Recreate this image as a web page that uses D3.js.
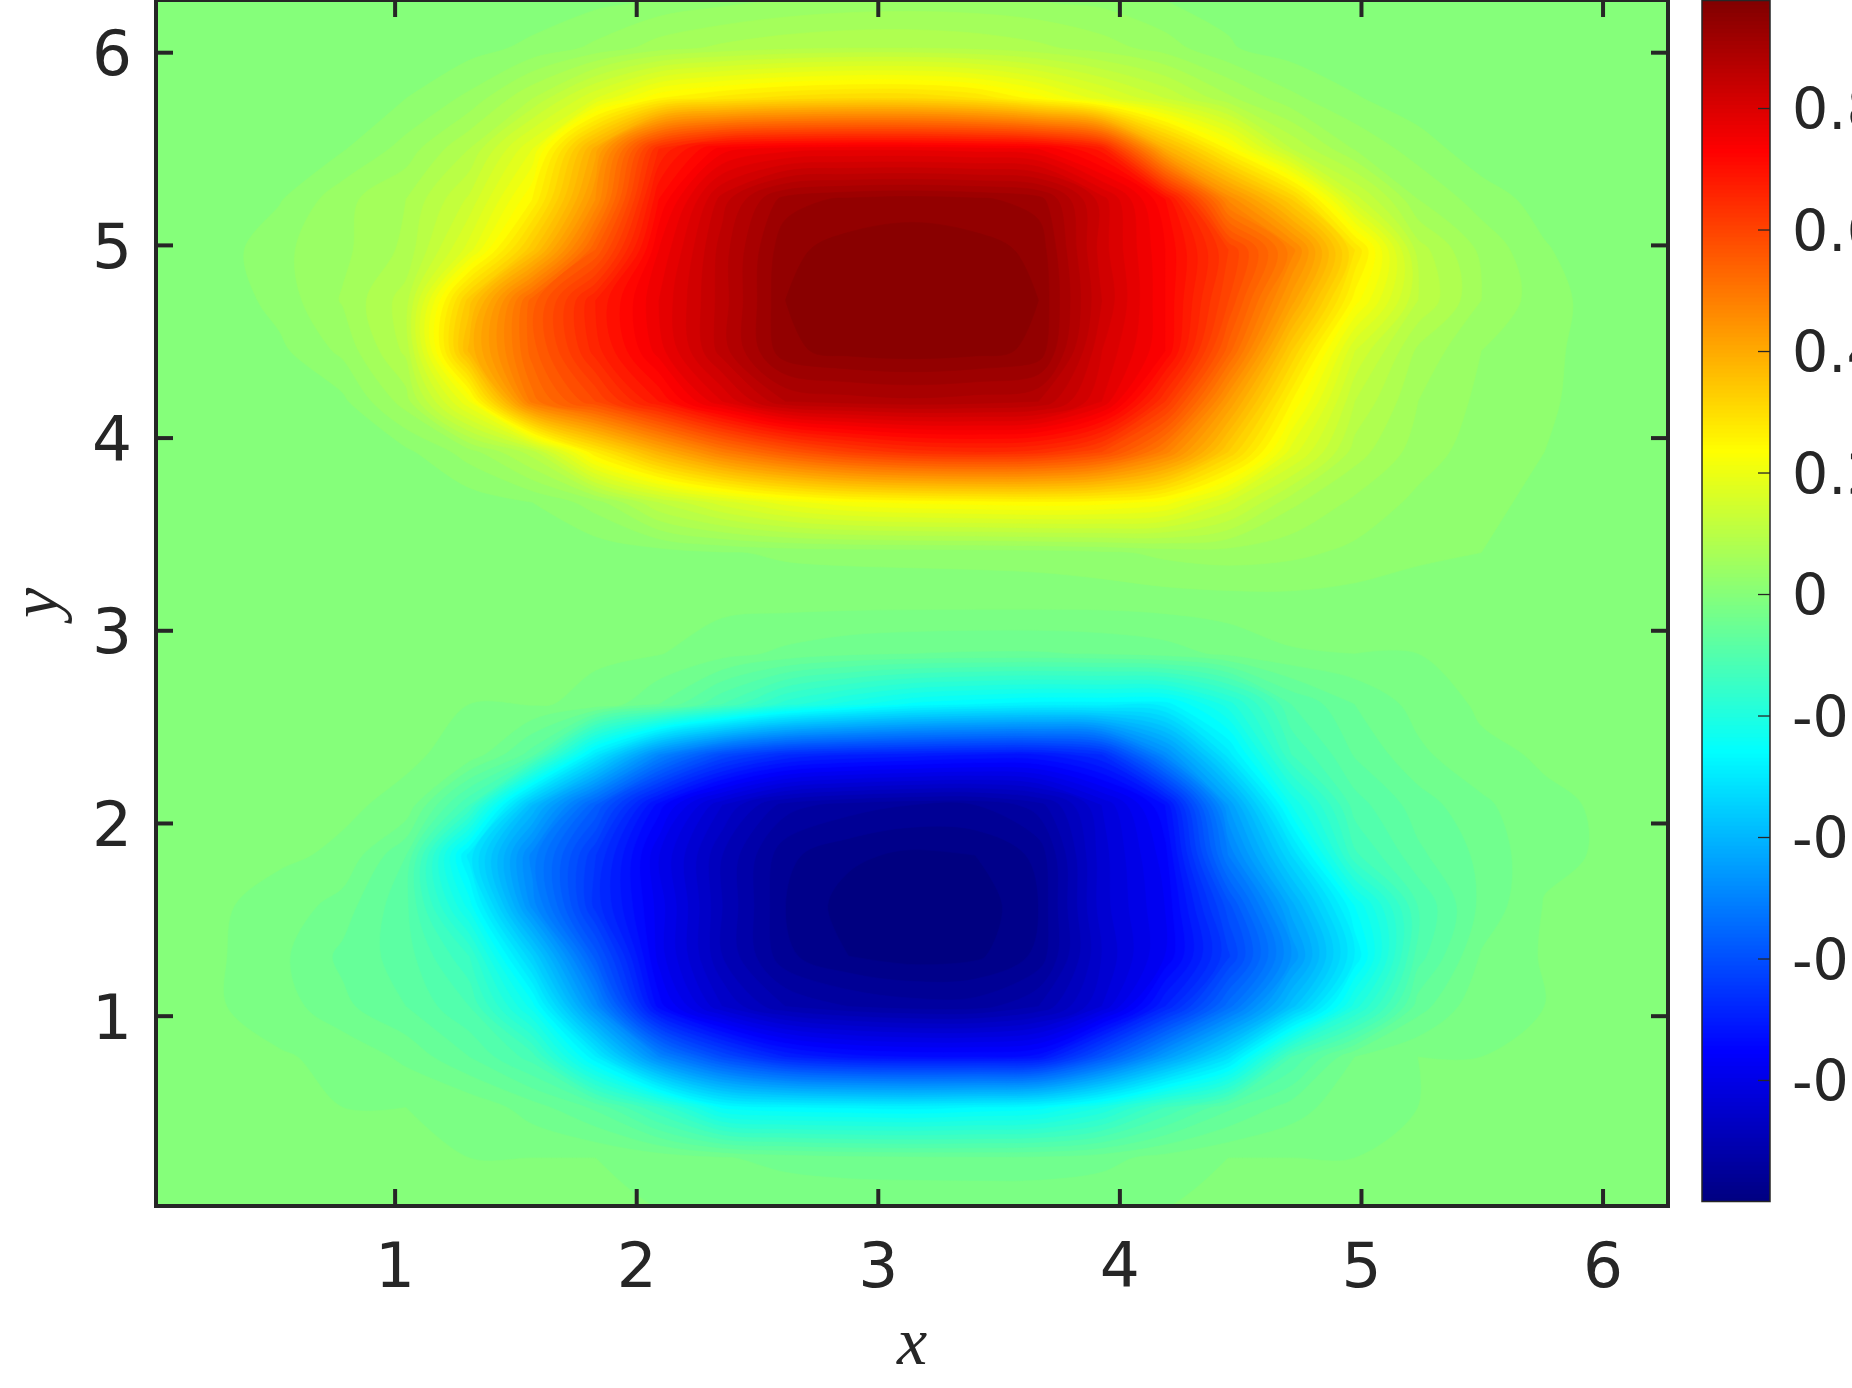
<!DOCTYPE html>
<html>
<head>
<meta charset="utf-8">
<script src="https://cdn.jsdelivr.net/npm/d3@7"></script>
<style>
html,body{margin:0;padding:0;background:#ffffff;overflow:hidden}
svg{display:block}
</style>
</head>
<body>
<svg id="chart" width="1852" height="1388"></svg>
<script>
// ---- data ----
const xGrid = [0,0.262,0.524,0.785,1.047,1.309,1.571,1.833,2.094,2.356,2.618,2.880,3.142,3.403,3.665,3.927,4.189,4.451,4.712,4.974,5.236,5.498,5.760,6.021,6.283];
const yGrid = [0,0.262,0.524,0.785,1.047,1.309,1.571,1.833,2.094,2.356,2.618,2.880,3.142,3.403,3.665,3.927,4.189,4.451,4.712,4.974,5.236,5.498,5.760,6.021,6.283];
// zRows[j][i] = value at (xGrid[i], yGrid[j]); j = 0 is the bottom row (y = 0)
const zRows = [
 [0,0,0,0,0,0,0,0,0,0,0,0,0,0,0,0,0,0,0,0,0,0,0,0,0],
 [0,0,0,0,0,0,0,0,-0.008,-0.018,-0.028,-0.034,-0.036,-0.037,-0.036,-0.028,-0.012,0,0,0,0,0,0,0,0],
 [0,0,0,0,0,-0.005,-0.03,-0.065,-0.14,-0.245,-0.26,-0.265,-0.27,-0.26,-0.25,-0.2,-0.12,-0.065,-0.03,-0.005,0,0,0,0,0],
 [0,0,0.002,-0.005,-0.025,-0.06,-0.11,-0.28,-0.48,-0.6,-0.68,-0.71,-0.72,-0.72,-0.71,-0.58,-0.44,-0.31,-0.1,-0.02,0,0,0,0,0],
 [0,0.002,-0.01,-0.035,-0.06,-0.1,-0.23,-0.47,-0.73,-0.84,-0.9,-0.92,-0.93,-0.93,-0.9,-0.82,-0.68,-0.53,-0.37,-0.19,-0.05,-0.003,0,0,0],
 [0,0.003,-0.015,-0.045,-0.07,-0.14,-0.34,-0.57,-0.77,-0.88,-0.955,-0.98,-0.99,-0.985,-0.955,-0.84,-0.76,-0.625,-0.46,-0.28,-0.09,-0.018,0.002,0,0],
 [0,0.002,-0.005,-0.03,-0.075,-0.23,-0.47,-0.65,-0.77,-0.88,-0.96,-0.99,-1.0,-0.995,-0.96,-0.83,-0.76,-0.59,-0.41,-0.24,-0.1,-0.035,0.001,0,0],
 [0,0,0.002,-0.002,-0.06,-0.29,-0.49,-0.64,-0.78,-0.88,-0.955,-0.975,-0.985,-0.98,-0.955,-0.83,-0.75,-0.5,-0.32,-0.125,-0.065,-0.035,-0.004,0.002,0],
 [0,0,0,0.002,-0.003,-0.12,-0.38,-0.56,-0.73,-0.84,-0.91,-0.93,-0.94,-0.94,-0.91,-0.82,-0.72,-0.44,-0.22,-0.09,-0.05,-0.025,-0.003,0.002,0],
 [0,0,0,0,0.002,-0.004,-0.07,-0.29,-0.48,-0.6,-0.66,-0.68,-0.69,-0.7,-0.7,-0.66,-0.47,-0.29,-0.12,-0.058,-0.025,-0.004,0.002,0,0],
 [0,0,0,0,0,0,0.002,-0.004,-0.04,-0.1,-0.17,-0.21,-0.245,-0.26,-0.27,-0.27,-0.27,-0.19,-0.08,-0.04,-0.012,0.003,0,0,0],
 [0,0,0,0,0,0,0,0.002,0.001,-0.012,-0.025,-0.035,-0.04,-0.042,-0.042,-0.038,-0.03,-0.015,-0.002,0,0,0,0,0,0],
 [0,0,0,0,0,0,0.002,0.003,0.004,0.005,0.006,0.006,0.006,0.006,0.006,0.006,0.008,0.01,0.012,0.01,0.006,0.002,0,0,0],
 [0,0,0,0,0,0,0.003,0.006,0.01,0.018,0.023,0.025,0.026,0.027,0.029,0.035,0.045,0.05,0.045,0.035,0.025,0.02,0.004,0,0],
 [0,0,0,0,0.005,0.008,0.02,0.05,0.12,0.17,0.21,0.235,0.245,0.25,0.255,0.25,0.23,0.16,0.085,0.055,0.035,0.025,0.015,0,0],
 [0,0,0,0,0.015,0.05,0.11,0.28,0.4,0.5,0.57,0.62,0.65,0.66,0.65,0.6,0.49,0.34,0.19,0.09,0.05,0.03,0.02,0.004,0],
 [0,0,0.003,0.015,0.07,0.22,0.51,0.6,0.7,0.8,0.88,0.89,0.895,0.89,0.88,0.8,0.64,0.44,0.26,0.12,0.06,0.035,0.024,0.008,0],
 [0,0.004,0.015,0.045,0.105,0.385,0.55,0.67,0.77,0.87,0.955,0.968,0.972,0.968,0.955,0.82,0.74,0.55,0.34,0.16,0.075,0.04,0.025,0.01,0],
 [0.002,0.005,0.028,0.062,0.11,0.35,0.55,0.68,0.78,0.87,0.96,0.972,0.977,0.972,0.96,0.84,0.74,0.6,0.43,0.25,0.12,0.06,0.028,0.01,0],
 [0,0.008,0.035,0.055,0.085,0.19,0.355,0.56,0.76,0.87,0.955,0.968,0.972,0.968,0.955,0.83,0.74,0.62,0.49,0.3,0.11,0.055,0.022,0.006,0],
 [0,0,0.018,0.053,0.08,0.144,0.26,0.46,0.72,0.85,0.93,0.945,0.95,0.945,0.93,0.83,0.72,0.475,0.34,0.15,0.06,0.03,0.012,0.003,0],
 [0,0,0,0.018,0.048,0.1,0.2,0.41,0.66,0.75,0.77,0.775,0.775,0.77,0.76,0.69,0.4,0.256,0.12,0.058,0.03,0.008,0,0,0],
 [0,0,0,0,0.02,0.045,0.1,0.18,0.26,0.29,0.31,0.32,0.32,0.3,0.25,0.19,0.14,0.085,0.045,0.022,0.008,0,0,0,0],
 [0,0,0,0,0.004,0.012,0.025,0.045,0.07,0.085,0.095,0.1,0.1,0.095,0.085,0.07,0.05,0.022,0.01,0.003,0,0,0,0,0],
 [0,0,0,0,0,0,0.005,0.012,0.022,0.03,0.038,0.043,0.045,0.044,0.04,0.032,0.018,0.014,0.008,0.003,0,0,0,0,0]
];
const xTicks = [1,2,3,4,5,6];
const yTicks = [1,2,3,4,5,6];
const cbTicks = [-0.8,-0.6,-0.4,-0.2,0,0.2,0.4,0.6,0.8];
const cbTickLabels = ["-0.8","-0.6","-0.4","-0.2","0","0.2","0.4","0.6","0.8"];
const xLabel = "x", yLabel = "y";

// ---- layout ----
const axisColor = "#262626";
const plot = {left:156, right:1668, top:0, bottom:1206};
const cb = {left:1702, right:1770, top:0.5, bottom:1201.5};
const dom = [0.0123, 6.2709];

const svg = d3.select("#chart");
const x = d3.scaleLinear().domain(dom).range([plot.left, plot.right]);
const y = d3.scaleLinear().domain(dom).range([plot.bottom, plot.top]);

const nx = xGrid.length, ny = yGrid.length;
const values = [];
for (let j = 0; j < ny; j++) for (let i = 0; i < nx; i++) values.push(zRows[j][i]);
const [zmin, zmax] = d3.extent(values);

const jetStops = [0, 0.125, 0.375, 0.625, 0.875, 1];
const jetColors = ["#000080", "#0000ff", "#00ffff", "#ffff00", "#ff0000", "#800000"];
const color = d3.scaleLinear()
  .domain(jetStops.map(s => zmin + s * (zmax - zmin)))
  .range(jetColors)
  .interpolate(d3.interpolateRgb)
  .clamp(true);

const levels = d3.range(-50, 49).map(k => k / 50);
const contours = d3.contours().size([nx, ny]).thresholds(levels)(values);

const stepX = (xGrid[nx - 1] - xGrid[0]) / (nx - 1);
const stepY = (yGrid[ny - 1] - yGrid[0]) / (ny - 1);
const gx = c => xGrid[0] + (c - 0.5) * stepX;
const gy = c => yGrid[0] + (c - 0.5) * stepY;
const ringLine = d3.line().curve(d3.curveCatmullRomClosed.alpha(0.5));

function pathFor(geom) {
  let s = "";
  geom.coordinates.forEach(poly => poly.forEach(ring => {
    const pts = ring.slice(0, -1).map(p => [x(gx(p[0])), y(gy(p[1]))]);
    if (pts.length > 2) s += ringLine(pts);
  }));
  return s;
}

svg.append("defs").append("clipPath").attr("id", "plotclip")
  .append("rect")
  .attr("x", plot.left).attr("y", plot.top)
  .attr("width", plot.right - plot.left).attr("height", plot.bottom - plot.top);

const field = svg.append("g").attr("clip-path", "url(#plotclip)");
field.append("rect")
  .attr("x", plot.left).attr("y", plot.top)
  .attr("width", plot.right - plot.left).attr("height", plot.bottom - plot.top)
  .attr("fill", color(0));
field.selectAll("path.band")
  .data(contours)
  .join("path")
  .attr("class", "band")
  .attr("d", d => pathFor(d))
  .attr("fill", d => color(d.value))
  .attr("fill-rule", "evenodd")
  .attr("stroke", d => color(d.value))
  .attr("stroke-width", 0.6);

// ---- axes ----
const fontSans = "'DejaVu Sans', sans-serif";
const tickLen = 17;
function styleAxis(g) {
  g.select(".domain").remove();
  g.selectAll(".tick line").attr("stroke", axisColor).attr("stroke-width", 4);
  g.selectAll(".tick text").attr("fill", axisColor).style("font-family", fontSans).style("font-size", "63px");
}
svg.append("g").attr("transform", `translate(0,${plot.bottom})`)
  .call(d3.axisBottom(x).tickValues(xTicks).tickSize(-tickLen).tickPadding(36).tickFormat(d3.format("d")))
  .call(styleAxis);
svg.append("g").attr("transform", `translate(0,${plot.top})`)
  .call(d3.axisTop(x).tickValues(xTicks).tickSize(-tickLen).tickFormat(""))
  .call(styleAxis);
svg.append("g").attr("transform", `translate(${plot.left},0)`)
  .call(d3.axisLeft(y).tickValues(yTicks).tickSize(-tickLen).tickPadding(24).tickFormat(d3.format("d")))
  .call(styleAxis)
  .selectAll(".tick text").attr("dy", "0.36em");
svg.append("g").attr("transform", `translate(${plot.right},0)`)
  .call(d3.axisRight(y).tickValues(yTicks).tickSize(-tickLen).tickFormat(""))
  .call(styleAxis);

svg.append("rect")
  .attr("x", plot.left).attr("y", plot.top)
  .attr("width", plot.right - plot.left).attr("height", plot.bottom - plot.top)
  .attr("fill", "none").attr("stroke", axisColor).attr("stroke-width", 4);

// axis labels
svg.append("text")
  .attr("x", (plot.left + plot.right) / 2).attr("y", 1364)
  .attr("text-anchor", "middle")
  .style("font-family", "'Liberation Serif', serif").style("font-style", "italic").style("font-size", "68px")
  .attr("fill", axisColor)
  .text(xLabel);
svg.append("text")
  .attr("transform", `translate(58,${(plot.top + plot.bottom) / 2}) rotate(-90)`)
  .attr("text-anchor", "middle")
  .style("font-family", "'Liberation Serif', serif").style("font-style", "italic").style("font-size", "68px")
  .attr("fill", axisColor)
  .text(yLabel);

// ---- colorbar ----
const cy = d3.scaleLinear().domain([zmin, zmax]).range([cb.bottom, cb.top]);
const nSteps = 300;
const cbSteps = d3.range(nSteps).map(k => zmin + (k + 0.5) * (zmax - zmin) / nSteps);
const stepH = (cb.bottom - cb.top) / nSteps;
svg.append("g").selectAll("rect")
  .data(cbSteps)
  .join("rect")
  .attr("x", cb.left).attr("width", cb.right - cb.left)
  .attr("y", d => cy(d) - stepH / 2 - 0.5).attr("height", stepH + 1)
  .attr("fill", d => color(d));
svg.append("rect")
  .attr("x", cb.left).attr("y", cb.top)
  .attr("width", cb.right - cb.left).attr("height", cb.bottom - cb.top)
  .attr("fill", "none").attr("stroke", axisColor).attr("stroke-width", 1.5);
const cbAxis = svg.append("g").attr("transform", `translate(${cb.right},0)`)
  .call(d3.axisRight(cy).tickValues(cbTicks).tickSize(-12).tickPadding(34)
    .tickFormat((d, i) => cbTickLabels[i]));
cbAxis.select(".domain").remove();
cbAxis.selectAll(".tick line").attr("stroke", axisColor).attr("stroke-width", 1.3);
cbAxis.selectAll(".tick text")
  .attr("x", 22).attr("dy", "0.36em")
  .attr("fill", axisColor)
  .style("font-family", fontSans).style("font-size", "57px");
</script>
</body>
</html>
